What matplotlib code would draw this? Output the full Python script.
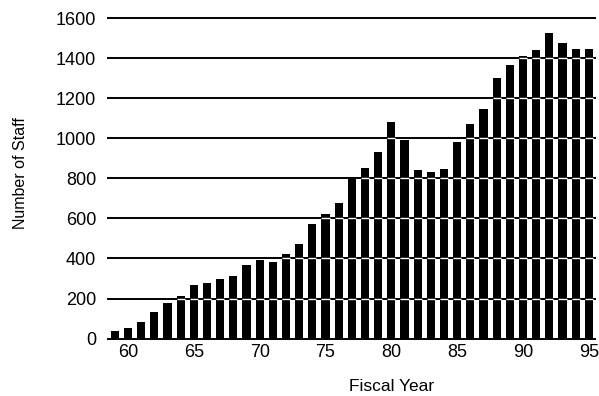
import numpy as np
import matplotlib
matplotlib.use("Agg")
import matplotlib.pyplot as plt

# fiscal years and staff counts
years = list(range(59, 96))
staff = [40, 55, 82, 132, 177, 215, 268, 275, 295, 312, 365, 393,
         383, 422, 470, 572, 620, 678, 797, 850, 933, 1083, 990,
         840, 830, 846, 980, 1072, 1147, 1300, 1366, 1411, 1440,
         1527, 1476, 1447, 1445]
y_ticks = [0, 200, 400, 600, 800, 1000, 1200, 1400, 1600]
x_ticks = [60, 65, 70, 75, 80, 85, 90, 95]

plt.rcParams['font.family'] = ['Liberation Sans', 'DejaVu Sans']

fig = plt.figure(figsize=(5.99, 3.96), dpi=100)
ax = fig.add_axes([0.180, 0.145, 0.813, 0.8095])

bar_w = 0.62
ax.bar(years, staff, width=bar_w, color='black', zorder=2)

# black grid lines behind bars, white where they cross the bars
for lv in y_ticks:
    ax.axhline(lv, color='black', lw=1.4, zorder=1, clip_on=False)
for x, h in zip(years, staff):
    lv = [t for t in y_ticks if 0 < t < h]
    if lv:
        ax.hlines(lv, x - bar_w / 2, x + bar_w / 2, color='white', lw=1.0, zorder=3)

ax.set_xlim(58.47, 95.45)
ax.set_ylim(0, 1600)
ax.set_yticks(y_ticks)
ax.set_xticks(x_ticks)
ax.tick_params(axis='both', length=0, labelsize=13)
ax.tick_params(axis='y', pad=8.5)
ax.tick_params(axis='x', pad=4)
for s in ax.spines.values():
    s.set_visible(False)

fig.text(0.035, 0.563, "Number of Staff", fontsize=11.5, rotation=90,
         ha='center', va='center')
fig.text(0.653, 0.025, "Fiscal Year", fontsize=12.5, ha='center', va='center')

fig.savefig("out.png", dpi=100)
